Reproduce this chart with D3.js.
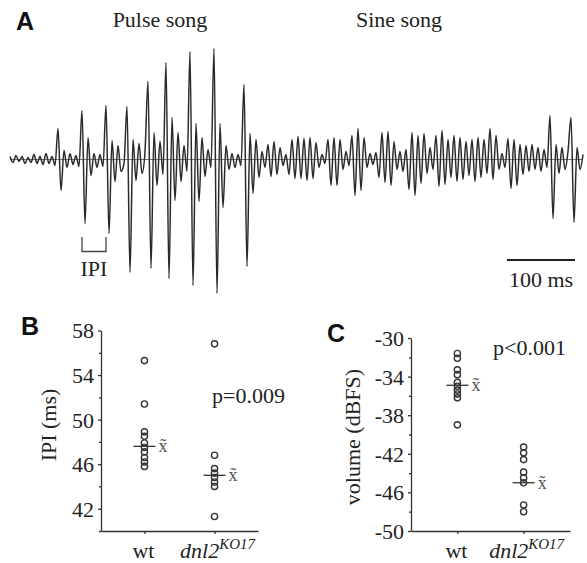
<!DOCTYPE html>
<html>
<head>
<meta charset="utf-8">
<script src="https://cdn.jsdelivr.net/npm/d3@7"></script>
<style>
  body { margin: 0; background: #fff; }
  svg text { font-family: "Liberation Serif", serif; fill: #222; }
  svg text.panel-label { font-family: "Liberation Sans", sans-serif; font-weight: bold; fill: #111; }
</style>
</head>
<body>
<svg id="fig" width="587" height="563"></svg>
<script>
"use strict";

// song trace, one sample every sampleMs, amplitude in a.u.
const sampleMs = 4.41;
const trace = [
  3, -3, 4, -2, 3, -4, 2, -3, 5, -4, 3, -5, 6, -4, 3, -6,
  31, -31, 9, -8, 6, -5, 4, -7,
  49, -64, 22, -16, 6, -8, 5, -7,
  54, -74, 19, -22, 14, -12, -4,
  53, -113, 20, -21, 16, -14, 8,
  78, -109, 27, -26, 18, -15,
  97, -119, 42, -41, 27, -22, 14, -12,
  108, -126, 36, -42, 22, -17, 10, -8,
  111, -134, 36, -48, 14, -10, 6, -8, 5, -6,
  75, -107, 26, -34, 20, -18, 8, -8,
  15, -17, 18, -15, 12, -6, 5,
  -15, 20, -19, 23, -19, 21, -21, 22, -19, 17,
  -8, 5, -4,
  20, -26, 22, -26, 20, -10, 8, -6,
  24, -36, 31, -31, 22, -8, 6, -5, 7,
  -18, 27, -23, 28, -26, 18, -10, 8, -12, 10,
  -30, 27, -36, 24, -24, 26, -14, 12, -10,
  24, -27, 29, -25, 20,
  -18, 24, -22, 22, -20, 18, -16,
  20, -22, 22, -18, 20, -14,
  31, -20, 24, -10, 6, -8,
  21, -29, 20, -26, 15,
  -15, 14, -12, 15, -10, 12, -12, 10, -8,
  44, -59, 15, -14, 12, -10, 8,
  42, -63, 12, -10, 5
];
const ipiPulses = [24, 32]; // sample index of the two pulses marked "IPI"
const songLabels = ["Pulse song", "Sine song"];
const scaleBarMs = 100;

const groups = ["wt", "dnl2"];

const ipiWt = [55.3, 51.4, 48.9, 48.5, 47.9, 47.5, 47.1, 46.6, 46.2, 45.8];
const ipiKo = [56.8, 46.8, 45.6, 45.2, 44.8, 44.4, 44.0, 41.3];
const ipiMedian = [47.6, 45.0];
const ipiTicks = [42, 46, 50, 54, 58];
const ipiMinor = [40, 44, 48, 52, 56];
const ipiP = "p=0.009";

const volWt = [-31.6, -32.1, -33.3, -33.8, -34.6, -35.0, -35.4, -35.8, -36.2, -39.0];
const volKo = [-41.3, -41.9, -42.6, -43.9, -44.5, -45.0, -47.3, -48.0];
const volMedian = [-34.9, -45.0];
const volTicks = [-50, -46, -42, -38, -34, -30];
const volMinor = [-48, -44, -40, -36, -32];
const volP = "p<0.001";

const SERIF = "Liberation Serif";

function translate(x, y) {
  return "translate(" + x + "," + y + ")";
}

let svg = d3.select("#fig");

// ---------- A: song trace ----------
let tx = d3.scaleLinear().domain([0, (trace.length - 1) * sampleMs]).range([10, 583]);
let ty = d3.scaleLinear().domain([-140, 140]).range([299.5, 19.5]);

svg.append("text").attr("class", "panel-label").attr("x", 16).attr("y", 30)
  .style("font-size", "25px").text("A");

svg.append("text").attr("x", 160).attr("y", 27).attr("text-anchor", "middle")
  .style("font-size", "22px").text(songLabels[0]);
svg.append("text").attr("x", 399).attr("y", 27).attr("text-anchor", "middle")
  .style("font-size", "22px").text(songLabels[1]);

svg.append("line")
  .attr("x1", tx(0)).attr("x2", tx((trace.length - 1) * sampleMs))
  .attr("y1", ty(0)).attr("y2", ty(0))
  .attr("stroke", "#555").attr("stroke-width", 0.8);

let line = d3.line()
  .x((d, i) => tx(i * sampleMs))
  .y((d) => ty(d))
  .curve(d3.curveMonotoneX);

svg.append("path")
  .datum(trace)
  .attr("d", line)
  .attr("fill", "none")
  .attr("stroke", "#2a2a2a")
  .attr("stroke-width", 1.5)
  .attr("stroke-linejoin", "round");

// IPI bracket
let bx0 = tx(ipiPulses[0] * sampleMs);
let bx1 = tx(ipiPulses[1] * sampleMs);
svg.append("path")
  .attr("d", "M" + bx0 + ",237V251.5H" + bx1 + "V237")
  .attr("fill", "none").attr("stroke", "#444").attr("stroke-width", 1.3);
svg.append("text").attr("x", (bx0 + bx1) / 2).attr("y", 276).attr("text-anchor", "middle")
  .style("font-size", "22px").text("IPI");

// scale bar
let sbEnd = tx((trace.length - 1) * sampleMs) - 8;
let sbStart = sbEnd - (tx(scaleBarMs) - tx(0));
svg.append("line")
  .attr("x1", sbStart).attr("x2", sbEnd).attr("y1", 260).attr("y2", 260)
  .attr("stroke", "#222").attr("stroke-width", 2);
svg.append("text").attr("x", (sbStart + sbEnd) / 2).attr("y", 287).attr("text-anchor", "middle")
  .style("font-size", "22px").text(scaleBarMs + " ms");

// ---------- B / C: dot plots ----------
function dotPanel(cfg) {
  let g = svg.append("g");
  let y = d3.scaleLinear().domain(cfg.domain).range([531, cfg.top]);
  let x = d3.scalePoint().domain(groups).range([cfg.left, cfg.right]).padding(cfg.pad);

  let yAxis = g.append("g").attr("transform", translate(cfg.left, 0))
    .call(d3.axisLeft(y).tickValues(cfg.ticks).tickSize(3).tickSizeOuter(0)
      .tickPadding(4).tickFormat((d) => String(d)));
  yAxis.attr("font-family", null).attr("font-size", null);
  yAxis.selectAll("text")
    .attr("font-family", SERIF)
    .style("font-family", SERIF)
    .style("font-size", "22px")
    .attr("dy", "0.34em");
  g.append("g").attr("transform", translate(cfg.left, 0))
    .call(d3.axisLeft(y).tickValues(cfg.minor).tickSize(2).tickFormat(""))
    .select(".domain").remove();

  g.append("g").attr("transform", translate(0, 531))
    .call(d3.axisBottom(x).tickSize(3).tickSizeOuter(0).tickFormat(""));

  g.selectAll(".domain, .tick line").attr("stroke", "#333").attr("stroke-width", 1.3);

  // group labels
  g.append("text").attr("x", x("wt") - 1).attr("y", 558).attr("text-anchor", "middle")
    .style("font-size", "22px").text("wt");
  let ko = g.append("text").attr("x", x("dnl2") + 3).attr("y", 558).attr("text-anchor", "middle")
    .style("font-size", "22px").style("font-style", "italic");
  ko.append("tspan").text("dnl2");
  ko.append("tspan").attr("dy", -9).style("font-size", "15px").text("KO17");

  // axis title
  g.append("text").attr("transform", translate(cfg.titleX, cfg.titleY) + " rotate(-90)")
    .attr("text-anchor", "middle").style("font-size", "22px").text(cfg.title);

  // points
  [cfg.wt, cfg.ko].forEach((vals, k) => {
    g.append("g").selectAll("circle")
      .data(vals)
      .enter()
      .append("circle")
      .attr("cx", x(groups[k]))
      .attr("cy", (d) => y(d))
      .attr("r", 3.1)
      .attr("fill", "none")
      .attr("stroke", "#333")
      .attr("stroke-width", 1.4);
  });

  // medians
  cfg.median.forEach((m, k) => {
    let cx = x(groups[k]);
    g.append("line").attr("x1", cx - 11).attr("x2", cx + 11)
      .attr("y1", y(m)).attr("y2", y(m))
      .attr("stroke", "#333").attr("stroke-width", 1.3);
    g.append("text").attr("x", cx + 14).attr("y", y(m) + 6)
      .style("font-size", "18px").style("fill", "#555").text("x\u0303");
  });

  g.append("text").attr("x", cfg.pX).attr("y", cfg.pY)
    .style("font-size", "22px").text(cfg.p);

  g.append("text").attr("class", "panel-label").attr("x", cfg.labelX).attr("y", cfg.labelY)
    .style("font-size", "25px").text(cfg.label);
}

dotPanel({
  label: "B", labelX: 21, labelY: 335,
  domain: [40, 58], top: 330.5, ticks: ipiTicks, minor: ipiMinor,
  left: 101, right: 258, pad: 0.62,
  wt: ipiWt, ko: ipiKo, median: ipiMedian,
  title: "IPI (ms)", titleX: 56, titleY: 425,
  p: ipiP, pX: 212, pY: 403
});

dotPanel({
  label: "C", labelX: 327, labelY: 342,
  domain: [-50, -30], top: 338, ticks: volTicks, minor: volMinor,
  left: 411, right: 570, pad: 0.7,
  wt: volWt, ko: volKo, median: volMedian,
  title: "volume (dBFS)", titleX: 360, titleY: 437,
  p: volP, pX: 493, pY: 355
});
</script>
</body>
</html>
